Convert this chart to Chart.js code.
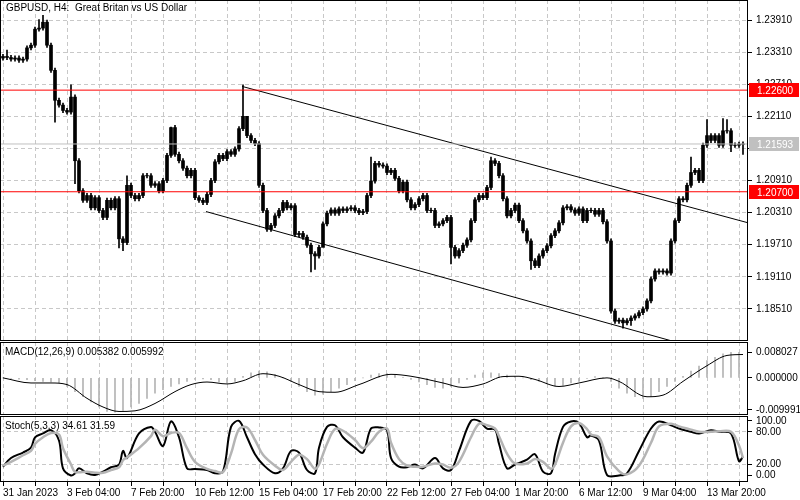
<!DOCTYPE html>
<html><head><meta charset="utf-8">
<script src="https://cdn.jsdelivr.net/npm/chart.js@4.4.1/dist/chart.umd.min.js"></script>
<style>
html,body{margin:0;padding:0;background:#fff;width:800px;height:500px;overflow:hidden}
.p{position:absolute;left:0;width:800px}
</style></head><body>
<div class="p" style="top:0;height:341px"><canvas id="main"></canvas></div>
<div class="p" style="top:342px;height:73px"><canvas id="macd"></canvas></div>
<div class="p" style="top:416px;height:84px"><canvas id="stoch"></canvas></div>
<script>
// ---------- DATA ----------
const closes = [1.2323,1.2321,1.2318,1.2320,1.2316,1.2318,1.2339,1.2344,1.2374,1.2376,
1.2387,1.2344,1.2297,1.2241,1.2232,1.2222,1.2219,1.2247,1.2128,1.2072,
1.2054,1.2063,1.2040,1.2059,1.2035,1.2022,1.2054,1.2040,1.2057,1.1982,
1.1975,1.2082,1.2063,1.2057,1.2063,1.2100,1.2100,1.2082,1.2085,1.2072,
1.2091,1.2138,1.2190,1.2140,1.2128,1.2114,1.2100,1.2110,1.2059,1.2054,
1.2050,1.2065,1.2091,1.2126,1.2138,1.2132,1.2145,1.2140,1.2150,1.2188,
1.2211,1.2175,1.2166,1.2160,1.2082,1.2035,1.2000,1.2007,1.2025,1.2035,
1.2050,1.2040,1.2044,1.1990,1.1992,1.1985,1.1970,1.1954,1.1950,1.1966,
1.2010,1.2030,1.2036,1.2030,1.2038,1.2035,1.2038,1.2040,1.2035,1.2031,
1.2033,1.2063,1.2090,1.2123,1.2120,1.2118,1.2106,1.2110,1.2095,1.2072,
1.2088,1.2055,1.2040,1.2046,1.2057,1.2063,1.2035,1.2035,1.2007,1.2010,
1.2016,1.2022,1.1966,1.1950,1.1960,1.1970,1.1980,1.2016,1.2055,1.2063,
1.2059,1.2078,1.2128,1.2123,1.2100,1.2057,1.2025,1.2035,1.2045,1.2016,
1.1997,1.1978,1.1941,1.1932,1.1950,1.1960,1.1969,1.1988,1.1997,1.2012,
1.2040,1.2042,1.2036,1.2030,1.2038,1.2016,1.2035,1.2035,1.2028,1.2035,
1.2014,1.1978,1.1847,1.1828,1.1830,1.1825,1.1829,1.1834,1.1838,1.1844,
1.1851,1.1866,1.1907,1.1922,1.1920,1.1922,1.1918,1.1978,1.2016,1.2057,
1.2055,1.2082,1.2106,1.2110,1.2091,1.2157,1.2175,1.2166,1.2175,1.2157,
1.2184,1.2184,1.2157,1.2157,1.2159,1.2159];
const firstOpen = 1.2320;
// notable wick extremes [candle, high] / [candle, low]
const highMarks = [[1,1.2335],[9,1.2392],[10,1.2400],[17,1.2270],[31,1.2100],[42,1.2191],[60,1.2270],[61,1.2200],[92,1.2135],[122,1.2135],[172,1.2135],[176,1.2205],[180,1.2207],[181,1.2205]];
const lowMarks = [[13,1.2200],[18,1.2085],[29,1.1965],[30,1.1960],[77,1.1920],[78,1.1925],[80,1.1975],[112,1.1935],[132,1.1925],[155,1.1815],[157,1.1820],[182,1.2145],[185,1.2140]];
const levelRed = [1.22600, 1.20700];
const levelBid = 1.21593;
const chanUpper = [[59.75,1.2267],[186.25,1.2012]];
const chanLower = [[50.75,1.2033],[167.25,1.1791]];
const priceTicks = [1.23910,1.23310,1.22710,1.22110,1.21510,1.20910,1.20310,1.19710,1.19110,1.18510];
const macdLineIdx = [0,7,12,16,21,25,29,33,38,43,47,51,56,60,65,69,74,79,83,89,97,102,110,115,120,125,129,133,139,144,151,154,161,165,170,176,181,185];
const macdLineVal = [0,-0.0016,-0.0016,-0.0021,-0.0064,-0.0091,-0.0105,-0.0103,-0.0080,-0.0043,-0.0021,-0.0013,-0.0019,-0.0009,0.0013,0.0005,-0.0021,-0.0043,-0.0045,-0.0021,0.0011,0.0005,-0.0016,-0.0030,-0.0019,0.0004,0.0005,-0.0005,-0.0027,-0.0016,0.0000,-0.0011,-0.0059,-0.0054,-0.0011,0.0038,0.0070,0.0073];
const macdHist = [0,-0.0002,-0.0004,-0.0006,-0.0009,-0.0011,-0.0013,-0.0016,-0.0027,-0.0043,
-0.0059,-0.0075,-0.0091,-0.0105,-0.0107,-0.0102,-0.0091,-0.0080,-0.0064,-0.0048,
-0.0037,-0.0027,-0.0019,-0.0011,-0.0005,-0.0003,-0.0006,-0.0013,-0.0016,-0.0011,
0.0005,0.0016,0.0021,0.0019,0.0011,0,-0.0011,-0.0027,-0.0043,-0.0054,
-0.0051,-0.0043,-0.0032,-0.0021,-0.0009,0,0.0009,0.0013,0.0013,0.0009,
0.0002,-0.0005,-0.0013,-0.0021,-0.0030,-0.0032,-0.0027,-0.0016,-0.0005,0.0009,
0.0016,0.0016,0.0013,0.0009,0.0005,0,-0.0006,-0.0011,-0.0019,-0.0026,
-0.0024,-0.0016,-0.0011,-0.0002,0.0004,0.0002,-0.0011,-0.0032,-0.0048,-0.0059,
-0.0064,-0.0059,-0.0043,-0.0027,-0.0011,0.0005,0.0021,0.0037,0.0054,0.0064,
0.0075,0.0080,0.0080];
const macdTicks = [0.008027, 0.0, -0.009991];
const stochIdx = [0,2,5,7,8,10,12,14,15,17,18,19,21,23,25,27,29,30,31,34,37,38,40,42,44,46,48,51,53,55,57,59,61,63,65,68,70,72,74,76,78,79,81,83,85,88,90,92,94,96,97,99,101,103,105,108,110,112,114,117,119,121,123,124,126,128,131,133,135,137,138,140,142,144,146,147,149,151,154,156,159,162,164,167,169,172,174,177,179,182,184,185];
const stochK = [16,32,42,51,70,77,83,64,13,0,4,13,4,1,7,15,20,45,32,77,89,80,54,99,70,13,12,10,4,7,89,100,70,39,20,4,13,45,42,10,4,51,89,92,70,51,42,86,88,83,32,16,15,20,13,32,13,10,45,100,100,86,84,58,13,20,29,39,7,4,39,89,99,96,70,73,64,1,0,4,45,86,99,92,86,80,77,83,80,77,26,34.61];
const stochD = [18,25,37,45,58,70,78,75,50,20,6,6,7,5,5,10,15,28,33,50,72,84,72,78,78,50,25,12,8,6,40,85,88,65,38,18,10,25,38,30,12,20,58,85,82,65,50,62,80,86,60,30,18,16,16,22,20,14,25,70,95,92,86,72,40,22,22,30,25,12,20,60,90,96,85,75,70,35,8,2,18,60,90,95,90,84,80,80,81,80,55,31.59];
const stochTicks = [100,80,20,0];
const timeLabels = ["31 Jan 2023","3 Feb 04:00","7 Feb 20:00","10 Feb 12:00","15 Feb 04:00","17 Feb 20:00","22 Feb 12:00","27 Feb 04:00","1 Mar 20:00","6 Mar 12:00","9 Mar 04:00","13 Mar 20:00"];
const gridIdx = [0,8,16,24,32,40,48,56,64,72,80,88,96,104,112,120,128,136,144,152,160,168,176,184];

// ---------- BUILD ----------
const FONT = "'Liberation Sans', Arial, sans-serif";
Chart.defaults.font.family = FONT;
Chart.defaults.font.size = 10;
Chart.defaults.color = '#000';
Chart.defaults.animation = false;
const XMIN = -0.75, XMAX = 186.25, AXW = 52;
const hiMap = Object.fromEntries(highMarks), loMap = Object.fromEntries(lowMarks);
const bodies = [], wicks = [];
closes.forEach((c, i) => {
  const o = i === 0 ? firstOpen : closes[i-1];
  let lo = Math.min(o,c), hi = Math.max(o,c);
  if (hi - lo < 0.00006) { hi += 0.00003; lo -= 0.00003; }
  bodies.push({x:i, y:[lo,hi]});
  wicks.push({x:i, y:[loMap[i] ?? lo-0.0004, hiMap[i] ?? hi+0.0004]});
});
const fixY = s => { s.width = AXW; s.paddingTop = 0; s.paddingBottom = 0; };
const frame = {id:'frame', afterDraw(ch){ const a=ch.chartArea,c=ch.ctx; c.save(); c.strokeStyle='#000'; c.lineWidth=1; c.strokeRect(a.left+0.5,a.top+0.5,a.right-a.left-1,a.bottom-a.top-1); c.restore(); }};
const textPlug = (txt) => ({id:'txt', afterDraw(ch){ const c=ch.ctx; c.save(); c.font="10px "+FONT; c.fillStyle='#000'; c.textBaseline='top'; c.fillText(txt, ch.chartArea.left+5, ch.chartArea.top+5); c.restore(); }});
const xAxis = (showLabels) => ({
  type:'linear', min:XMIN, max:XMAX, offset:false,
  afterBuildTicks: s => { s.ticks = gridIdx.map(v=>({value:v})); },
  afterFit: s => { s.paddingLeft = 0; s.paddingRight = 0; if (!showLabels) s.height = 0; },
  grid:{color:'#c8c8c8', tickLength: showLabels?4:0, drawTicks: showLabels, tickColor:'#000', offset:false},
  border:{display:false, dash:[4,3]},
  ticks:{display:showLabels, maxRotation:0, autoSkip:false, align:'start', padding:1,
    callback: v => (v % 16 === 0) ? timeLabels[v/16] : ''}
});

// main
const boxes = {id:'boxes', afterDraw(ch){
  const c=ch.ctx, y=ch.scales.y, a=ch.chartArea; c.save(); c.font="10px "+FONT; c.textBaseline='middle';
  const box=(v,bg,fg)=>{const py=Math.round(y.getPixelForValue(v)); c.fillStyle=bg; c.fillRect(a.right+1,py-7,50,14); c.fillStyle=fg; c.fillText(v.toFixed(5),a.right+9,py+1);};
  box(levelBid,'#c0c0c0','#fff'); levelRed.forEach(v=>box(v,'#ff0000','#fff'));
  c.fillStyle='#000'; c.textBaseline='top'; c.fillText('GBPUSD, H4:  Great Britan vs US Dollar', a.left+6, a.top+3);
  c.restore();
}};
const hline = (v,col) => ({type:'line', data:[{x:XMIN,y:v},{x:XMAX,y:v}], borderColor:col, borderWidth:1, pointRadius:0});
new Chart(document.getElementById('main'), {
  type:'bar',
  data:{datasets:[
    hline(levelBid,'#c0c0c0'), hline(levelRed[0],'#ff0000'), hline(levelRed[1],'#ff0000'),
    {type:'line', data:chanUpper.map(p=>({x:p[0],y:p[1]})), borderColor:'#000', borderWidth:1, pointRadius:0},
    {type:'line', data:chanLower.map(p=>({x:p[0],y:p[1]})), borderColor:'#000', borderWidth:1, pointRadius:0},
    {data:wicks, backgroundColor:'#000', barThickness:1, grouped:false},
    {data:bodies, backgroundColor:'#000', barThickness:3, grouped:false}
  ]},
  options:{responsive:true, maintainAspectRatio:false, devicePixelRatio:1, layout:{padding:0},
    plugins:{legend:{display:false}, tooltip:{enabled:false}},
    scales:{x:xAxis(false),
      y:{position:'right', min:1.1791, max:1.24285, afterFit:fixY,
        afterBuildTicks: s => { s.ticks = priceTicks.map(v=>({value:v})); },
        grid:{color:'#c8c8c8', tickColor:'#000', tickLength:4}, border:{display:false, dash:[4,3]},
        ticks:{padding:4, callback:v=>v.toFixed(5)}}}},
  plugins:[frame, boxes]
});
// macd
new Chart(document.getElementById('macd'), {
  type:'bar',
  data:{datasets:[
    {type:'line', data:macdLineIdx.map((x,k)=>({x, y:macdLineVal[k]})), borderColor:'#000', borderWidth:1, pointRadius:0, cubicInterpolationMode:'monotone'},
    {data:macdHist.map((v,k)=>({x:2*k, y:v})), backgroundColor:'#b4b4b4', barThickness:1, grouped:false}
  ]},
  options:{responsive:true, maintainAspectRatio:false, devicePixelRatio:1, layout:{padding:0},
    plugins:{legend:{display:false}, tooltip:{enabled:false}},
    scales:{x:xAxis(false),
      y:{position:'right', min:-0.0116, max:0.0112, afterFit:fixY,
        afterBuildTicks: s => { s.ticks = macdTicks.map(v=>({value:v})); },
        grid:{color:'rgba(0,0,0,0)', tickColor:'#000', tickLength:4}, border:{display:false},
        ticks:{padding:4, callback:v=>v.toFixed(6)}}}},
  plugins:[frame, textPlug('MACD(12,26,9) 0.005382 0.005992')]
});
// stoch
new Chart(document.getElementById('stoch'), {
  type:'line',
  data:{datasets:[
    {data:stochIdx.map((x,k)=>({x, y:stochD[k]})), borderColor:'#b4b4b4', borderWidth:2.5, pointRadius:0, tension:0.35},
    {data:stochIdx.map((x,k)=>({x, y:stochK[k]})), borderColor:'#000', borderWidth:2, pointRadius:0, tension:0.35}
  ]},
  options:{responsive:true, maintainAspectRatio:false, devicePixelRatio:1, layout:{padding:0},
    plugins:{legend:{display:false}, tooltip:{enabled:false}},
    scales:{x:xAxis(true),
      y:{position:'right', min:-12, max:109, afterFit:fixY,
        afterBuildTicks: s => { s.ticks = stochTicks.map(v=>({value:v})); },
        grid:{color: c => (c.tick && (c.tick.value===80||c.tick.value===20)) ? '#c8c8c8' : 'rgba(0,0,0,0)', tickColor:'#000', tickLength:4},
        border:{display:false, dash:[4,3]},
        ticks:{padding:4, callback:v=>v.toFixed(2)}}}},
  plugins:[frame, textPlug('Stoch(5,3,3) 34.61 31.59')]
});
</script></body></html>
